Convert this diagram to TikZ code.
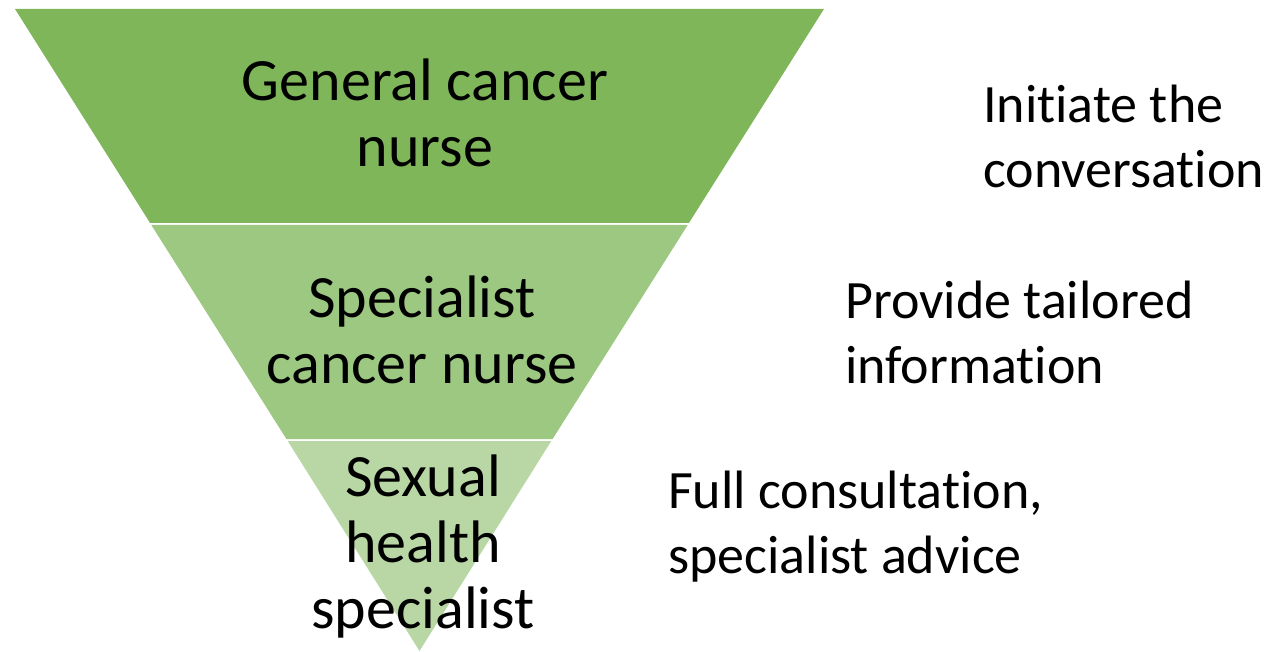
\documentclass[tikz,border=0pt]{standalone}
\usepackage{fontspec}
\setmainfont{Carlito}[Ligatures={NoCommon}]
\definecolor{bandA}{RGB}{127,182,90}
\definecolor{bandB}{RGB}{157,200,130}
\definecolor{bandC}{RGB}{185,215,165}
\begin{document}
\begin{tikzpicture}[x=1pt,y=-1pt,
  band/.style={fill=#1,draw=none},
  lefttext/.style={align=center,inner sep=0pt,font=\fontsize{60}{66}\selectfont},
  righttext/.style={align=left,inner sep=0pt,anchor=west,font=\fontsize{54}{65}\selectfont}]
\useasboundingbox (0,0) rectangle (1268,652);
\fill[bandA] (15,9) -- (824,9) -- (688.9,223) -- (150.1,223) -- cycle;
\fill[bandB] (151.3,225) -- (687.7,225) -- (552.6,439) -- (286.4,439) -- cycle;
\fill[bandC] (287.7,441) -- (551.3,441) -- (419.5,651) -- cycle;
\node[lefttext] (gen) at (425,113) {General cancer\\nurse};
\node[lefttext] (spec) at (422,330) {Specialist\\cancer nurse};
\node[lefttext] (sex) at (423,546) {Sexual\\health\\specialist};
\node[righttext] (init) at (983,136) {Initiate the\\conversation};
\node[righttext] (prov) at (845,332) {Provide tailored\\information};
\node[righttext] (full) at (668,527) {Full consultation,\\specialist advice};
\end{tikzpicture}
\end{document}
